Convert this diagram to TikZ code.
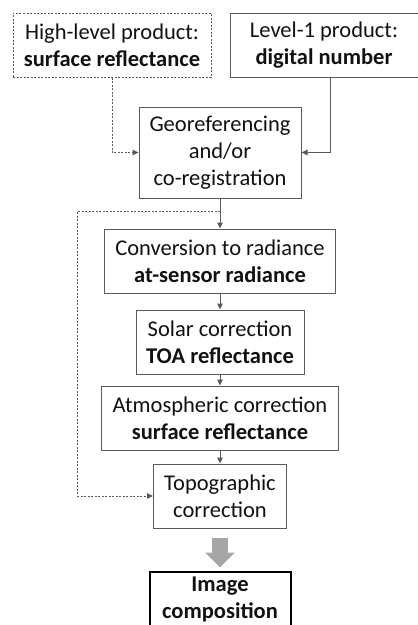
\documentclass[tikz,border=0pt]{standalone}
\usepackage{fontspec}
\setmainfont{Carlito}
\usepackage{tikz}
\usetikzlibrary{arrows.meta,positioning}

\definecolor{boxgray}{HTML}{5A5A5A}
\definecolor{textgray}{HTML}{111111}
\definecolor{arrowgray}{HTML}{A6A6A6}

\begin{document}
\begin{tikzpicture}[x=1pt, y=1pt,
        >={Triangle[length=6pt,width=5.5pt]},
        every node/.style={font=\fontsize{22.5}{27}\selectfont, text=textgray, align=center, inner sep=3pt},
        procbox/.style={draw=boxgray, line width=1pt, rectangle, minimum height=64pt},
        dashbox/.style={procbox, dash pattern=on 2pt off 1.5pt},
        finalbox/.style={draw=black, line width=2pt, rectangle, minimum width=141pt, minimum height=56pt, inner sep=1pt},
        flow/.style={->, draw=boxgray, line width=1pt},
        dashflow/.style={flow, dash pattern=on 2pt off 1.5pt},
        blockarrow/.style={draw=arrowgray, line width=16pt, -{Triangle[length=15pt,width=29pt]}}]
        \useasboundingbox (0,0) rectangle (418,-625);

        % Input products
        \node (hl) [dashbox, minimum width=198pt] at (112,-45) {High-level product:\\\textbf{surface reflectance}};
        \node (l1) [procbox, minimum width=188pt, right=18pt of hl] {Level-1 product:\\\textbf{digital number}};

        % Processing chain
        \node (geo) [procbox, minimum width=162pt, minimum height=91pt] at (220,-152.5) {Georeferencing\\and/or\\co-registration};
        \node (conv) [procbox, minimum width=231pt, below=30pt of geo] {Conversion to radiance\\\textbf{at-sensor radiance}};
        \node (solar) [procbox, minimum width=168pt, below=16pt of conv] {Solar correction\\\textbf{TOA reflectance}};
        \node (atm) [procbox, minimum width=237pt, below=11pt of solar] {Atmospheric correction\\\textbf{surface reflectance}};
        \node (topo) [procbox, minimum width=133pt, below=13pt of atm] {Topographic\\correction};

        % Result
        \node (img) [finalbox, below=42pt of topo] {\textbf{Image}\\\textbf{composition}};

        % Helper points
        \coordinate [below=13pt of geo.south] (junc);
        \coordinate [left=76pt of topo.west] (bend);

        % Arrows
        \draw [dashflow] (hl.south) |- (geo.west);
        \draw [flow] ([xshift=6pt]l1.south) |- (geo.east);
        \draw [flow] (geo) -- (conv);
        \draw [dashflow, -] (junc) -| (bend);
        \draw [dashflow] (bend) -- (topo.west);
        \draw [flow] (conv) -- (solar);
        \draw [flow] (solar) -- (atm);
        \draw [flow] (atm) -- (topo);
        \draw [blockarrow] ([yshift=-9pt]topo.south) -- ([yshift=3pt]img.north);
    \end{tikzpicture}
\end{document}
